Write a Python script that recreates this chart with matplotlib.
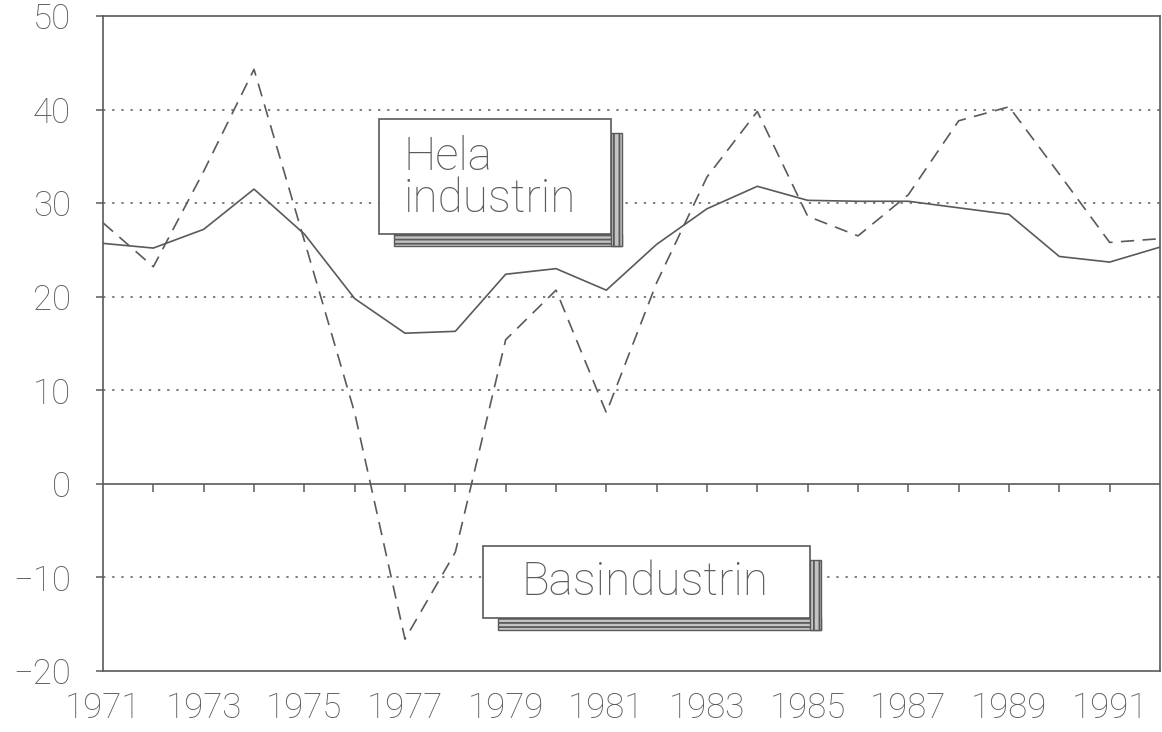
import matplotlib.pyplot as plt
from matplotlib.patches import Rectangle

# Data (per cent, 1971-1992)
years = list(range(1971, 1993))
hela_industrin = [25.7, 25.2, 27.2, 31.5, 26.7, 19.8, 16.1, 16.3, 22.4, 23.0, 20.7,
                  25.6, 29.4, 31.8, 30.3, 30.2, 30.2, 29.5, 28.8, 24.3, 23.7, 25.3]
basindustrin = [27.9, 23.2, 33.4, 44.3, 26.0, 7.6, -16.6, -7.3, 15.4, 20.7, 7.6,
                21.5, 32.8, 39.8, 28.6, 26.5, 30.9, 38.8, 40.3, 33.1, 25.8, 26.2]
year_labels = years[::2]
y_ticks = [-20, -10, 0, 10, 20, 30, 40, 50]
grid_levels = [-10, 10, 20, 30, 40]

ink = '#5a5a5a'
text_ink = '#5c5c5c'
plt.rcParams['font.family'] = ['Roboto', 'DejaVu Sans']
plt.rcParams['hatch.linewidth'] = 1.3
plt.rcParams['hatch.color'] = ink

fig = plt.figure(figsize=(11.62, 7.32), dpi=100)
ax = fig.add_axes([103 / 1162, 1 - 671 / 732, (1160 - 103) / 1162, (671 - 16) / 732])

ax.set_xlim(1971, 1992)
ax.set_ylim(-20, 50)

# dotted grid and zero line
for g in grid_levels:
    ax.axhline(g, color=ink, lw=1.1, linestyle=(0, (1.5, 4.5)), zorder=1)
ax.axhline(0, color=ink, lw=1.2, zorder=2)
# small year ticks hanging below the zero line
ax.vlines(years[1:-1], -0.85, 0, color=ink, lw=1.1, zorder=2)

ax.plot(years, hela_industrin, color=ink, lw=1.2, zorder=3)
ax.plot(years, basindustrin, color=ink, lw=1.2, dashes=(8, 5), zorder=3)

for s in ax.spines.values():
    s.set_color(ink)
    s.set_linewidth(1.2)

ax.set_yticks(y_ticks)
ax.set_yticklabels([str(v).replace('-', '\u2212') for v in y_ticks])
ax.set_xticks(year_labels)
ax.set_xticklabels([str(y) for y in year_labels])
ax.tick_params(axis='y', length=5, width=1.1, color=ink, pad=18,
               labelsize=25, labelcolor=text_ink)
ax.tick_params(axis='x', length=0, pad=15, labelsize=25, labelcolor=text_ink)
for lab in ax.get_xticklabels() + ax.get_yticklabels():
    lab.set_fontweight('light')


def px_to_data(px, py):
    return 1971 + (px - 103) / 50.33, (484.3 - py) / 9.4


def strip(px0, py0, px1, py1, hatch):
    a0, b0 = px_to_data(px0, py1)
    a1, b1 = px_to_data(px1, py0)
    ax.add_patch(Rectangle((a0, b0), a1 - a0, b1 - b0, facecolor='#c4c4c4',
                           edgecolor=ink, hatch=hatch, lw=1.0, zorder=4))


def label_box(x0, y0, x1, y1, text, tx, ty, ha):
    # shadow made of a bottom and a right strip of gray lines
    strip(x0 + 15, y1, x1 + 11, y1 + 12, '----')
    strip(x1, y0 + 14, x1 + 11, y1 + 12, '|||')
    bx0, by0 = px_to_data(x0, y1)
    bx1, by1 = px_to_data(x1, y0)
    ax.add_patch(Rectangle((bx0, by0), bx1 - bx0, by1 - by0, facecolor='white',
                           edgecolor=ink, lw=1.2, zorder=5))
    cx, cy = px_to_data(tx, ty)
    ax.text(cx, cy, text, ha=ha, va='center', fontsize=33, color=text_ink,
            fontweight='light', linespacing=0.92, zorder=6)


label_box(379, 118, 611, 233, 'Hela\nindustrin', 403, 177, 'left')
label_box(483, 547, 810, 619, 'Basindustrin', 645, 583, 'center')

plt.savefig('out.png', dpi=100)
